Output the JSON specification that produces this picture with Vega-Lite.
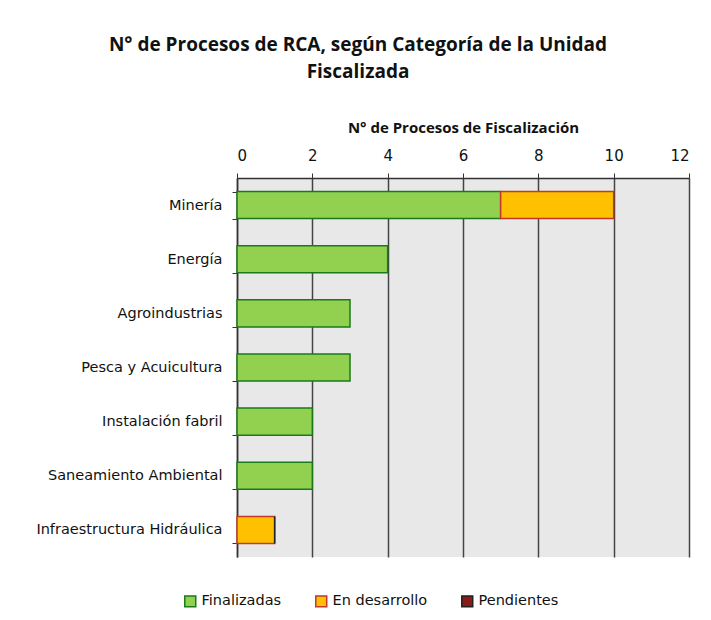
{
  "$schema": "https://vega.github.io/schema/vega-lite/v6.json",
  "width": 452,
  "height": 379,
  "autosize": {"type": "none"},
  "padding": {"left": 237, "top": 178, "right": 22, "bottom": 63},
  "background": "white",
  "title": {
    "text": ["N° de Procesos de RCA, según Categoría de la Unidad", "Fiscalizada"],
    "anchor": "middle",
    "frame": "group",
    "dx": -105,
    "fontSize": 19,
    "font": "Open Sans",
    "fontWeight": "bold",
    "color": "#111111",
    "lineHeight": 27,
    "offset": 38
  },
  "data": {
    "values": [
      {"categoria": "Minería", "estado": "Finalizadas", "orden": 1, "n": 7},
      {"categoria": "Minería", "estado": "En desarrollo", "orden": 2, "n": 3},
      {"categoria": "Energía", "estado": "Finalizadas", "orden": 1, "n": 4},
      {"categoria": "Agroindustrias", "estado": "Finalizadas", "orden": 1, "n": 3},
      {"categoria": "Pesca y Acuicultura", "estado": "Finalizadas", "orden": 1, "n": 3},
      {"categoria": "Instalación fabril", "estado": "Finalizadas", "orden": 1, "n": 2},
      {"categoria": "Saneamiento Ambiental", "estado": "Finalizadas", "orden": 1, "n": 2},
      {"categoria": "Infraestructura Hidráulica", "estado": "En desarrollo", "orden": 2, "n": 1},
      {"categoria": "Infraestructura Hidráulica", "estado": "Pendientes", "orden": 3, "n": 0}
    ]
  },
  "mark": {"type": "bar", "strokeWidth": 1.5},
  "encoding": {
    "y": {
      "field": "categoria",
      "type": "nominal",
      "sort": ["Minería", "Energía", "Agroindustrias", "Pesca y Acuicultura", "Instalación fabril", "Saneamiento Ambiental", "Infraestructura Hidráulica"],
      "scale": {"paddingInner": 0.5, "paddingOuter": 0.25},
      "axis": {
        "title": null,
        "tickBand": "extent",
        "labelFont": "DejaVu Sans",
        "labelFontSize": 14.5,
        "labelLimit": 400,
        "labelColor": "#111111",
        "labelPadding": 10,
        "tickColor": "#333333",
        "tickSize": 5,
        "domainColor": "#333333",
        "domainWidth": 1.5,
        "grid": false
      }
    },
    "x": {
      "field": "n",
      "type": "quantitative",
      "stack": "zero",
      "scale": {"domain": [0, 12], "nice": false},
      "axis": {
        "orient": "top",
        "title": "N° de Procesos de Fiscalización",
        "titleFont": "Open Sans",
        "titleFontSize": 15,
        "titleFontWeight": "bold",
        "titleColor": "#111111",
        "titlePadding": 13,
        "values": [0, 2, 4, 6, 8, 10, 12],
        "labelFont": "DejaVu Sans",
        "labelFontSize": 15,
        "labelColor": "#111111",
        "labelPadding": 10,
        "tickSize": 5,
        "tickColor": "#333333",
        "domainColor": "#333333",
        "domainWidth": 1.5,
        "grid": true,
        "gridColor": "#444444",
        "gridWidth": 1.5
      }
    },
    "color": {
      "field": "estado",
      "type": "nominal",
      "scale": {
        "domain": ["Finalizadas", "En desarrollo", "Pendientes"],
        "range": ["#92d050", "#ffc000", "#8b1a1a"]
      },
      "legend": {
        "title": null,
        "orient": "none",
        "direction": "horizontal",
        "legendX": -54,
        "legendY": 416,
        "symbolType": "square",
        "symbolSize": 120,
        "symbolStrokeWidth": 1.5,
        "labelFont": "DejaVu Sans",
        "labelFontSize": 14.5,
        "labelOffset": 4,
        "labelColor": "#111111",
        "columnPadding": 30,
        "symbolOffset": 0
      }
    },
    "stroke": {
      "field": "estado",
      "type": "nominal",
      "scale": {
        "domain": ["Finalizadas", "En desarrollo", "Pendientes"],
        "range": ["#1a7a1a", "#c0392b", "#222222"]
      },
      "legend": null
    },
    "order": {"field": "orden", "type": "quantitative"}
  },
  "config": {
    "view": {"fill": "#e8e8e8", "stroke": null}
  }
}
